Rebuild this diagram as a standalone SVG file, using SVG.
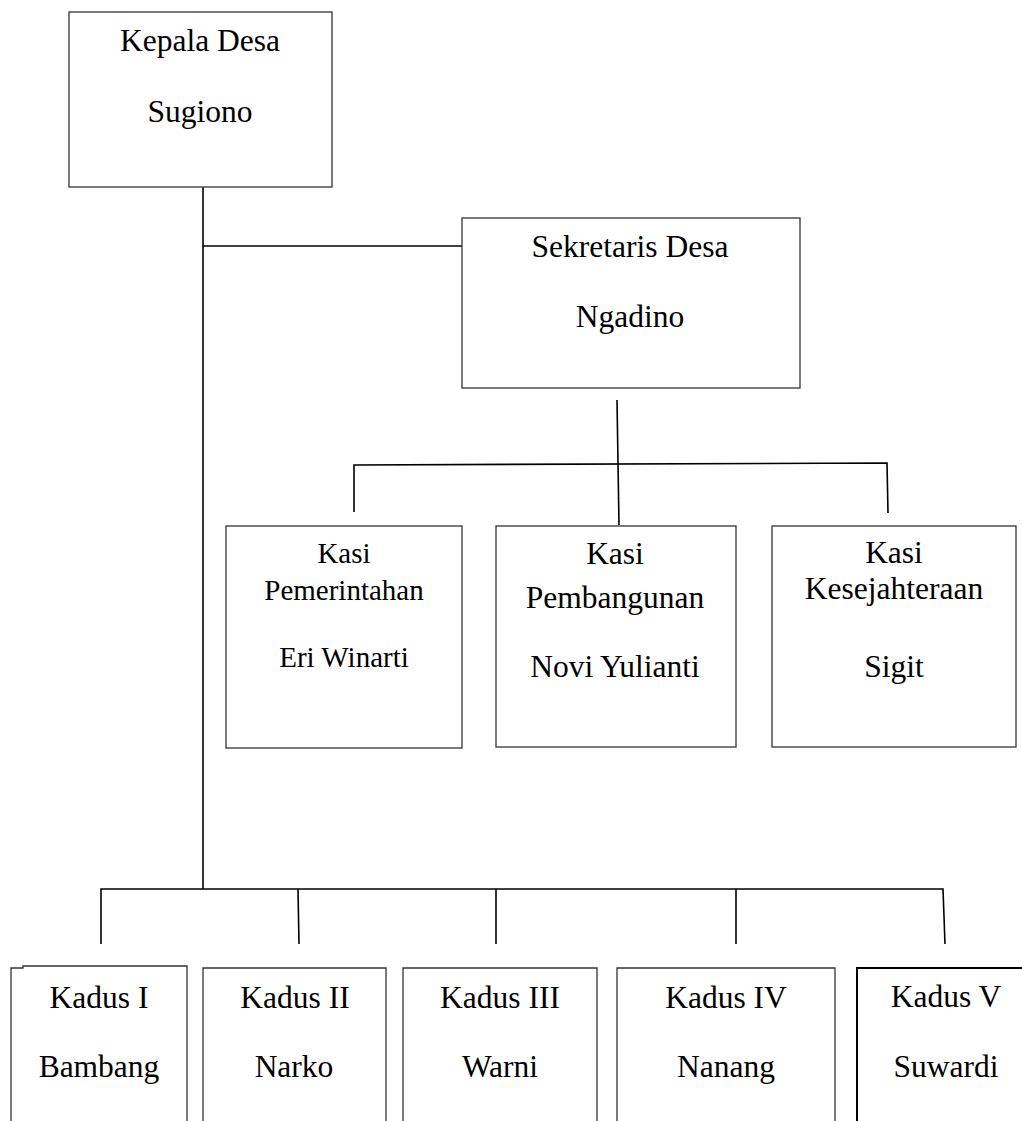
<svg xmlns="http://www.w3.org/2000/svg" width="1022" height="1121" viewBox="0 0 1022 1121">
<style>
.box{fill:#fff;stroke:#333;stroke-width:1.3}
.t{font-family:"Liberation Serif","Times New Roman",serif;font-size:31.5px;fill:#000;text-anchor:middle}
.s{font-size:29px}
.c{fill:none;stroke:#000;stroke-width:1.6}
</style>
<rect width="1022" height="1121" fill="#fff"/>
<g id="connectors">
<path class="c" d="M203,187 V889"/>
<path class="c" d="M203,246 H462"/>
<path class="c" d="M617,400 L619,525"/>
<path class="c" d="M354,512 V465 L887,463 L888,513"/>
<path class="c" d="M101,944 V889 H943 L945,944"/>
<path class="c" d="M298,889 L299,944"/>
<path class="c" d="M496,889 V944"/>
<path class="c" d="M736,889 V944"/>
</g>
<g id="kepala">
<rect class="box" x="69" y="12" width="263" height="175"/>
<text class="t" x="200" y="51">Kepala Desa</text>
<text class="t" x="200" y="122">Sugiono</text>
</g>
<g id="sekretaris">
<rect class="box" x="462" y="218" width="338" height="170"/>
<text class="t" x="630" y="257">Sekretaris Desa</text>
<text class="t" x="630" y="327">Ngadino</text>
</g>
<g id="kasi-pemerintahan">
<rect class="box" x="226" y="526" width="236" height="222"/>
<text class="t s" x="344" y="563">Kasi</text>
<text class="t s" x="344" y="600">Pemerintahan</text>
<text class="t s" x="344" y="667">Eri Winarti</text>
</g>
<g id="kasi-pembangunan">
<rect class="box" x="496" y="526" width="240" height="221"/>
<text class="t" x="615" y="564">Kasi</text>
<text class="t" x="615" y="608">Pembangunan</text>
<text class="t" x="615" y="677">Novi Yulianti</text>
</g>
<g id="kasi-kesejahteraan">
<rect class="box" x="772" y="526" width="244" height="221"/>
<text class="t" x="894" y="563">Kasi</text>
<text class="t" x="894" y="599">Kesejahteraan</text>
<text class="t" x="894" y="677">Sigit</text>
</g>
<g id="kadus-1">
<path class="box" d="M11,1121 V968 H23 V966 H187 V1121"/>
<text class="t" x="99" y="1008">Kadus I</text>
<text class="t" x="99" y="1077">Bambang</text>
</g>
<g id="kadus-2">
<path class="box" d="M203,1121 V968 H386 V1121"/>
<text class="t" x="295" y="1008">Kadus II</text>
<text class="t" x="294" y="1077">Narko</text>
</g>
<g id="kadus-3">
<path class="box" d="M403,1121 V968 H597 V1121"/>
<text class="t" x="500" y="1008">Kadus III</text>
<text class="t" x="500" y="1077">Warni</text>
</g>
<g id="kadus-4">
<path class="box" d="M617,1121 V968 H835 V1121"/>
<text class="t" x="726" y="1008" font-size="29.7">Kadus IV</text>
<text class="t" x="726" y="1077">Nanang</text>
</g>
<g id="kadus-5">
<path class="box" d="M857,1121 V968 H1022" style="stroke:#000;stroke-width:2"/>
<text class="t" x="946" y="1007" font-size="29.3">Kadus V</text>
<text class="t" x="946" y="1077">Suwardi</text>
</g>
</svg>
